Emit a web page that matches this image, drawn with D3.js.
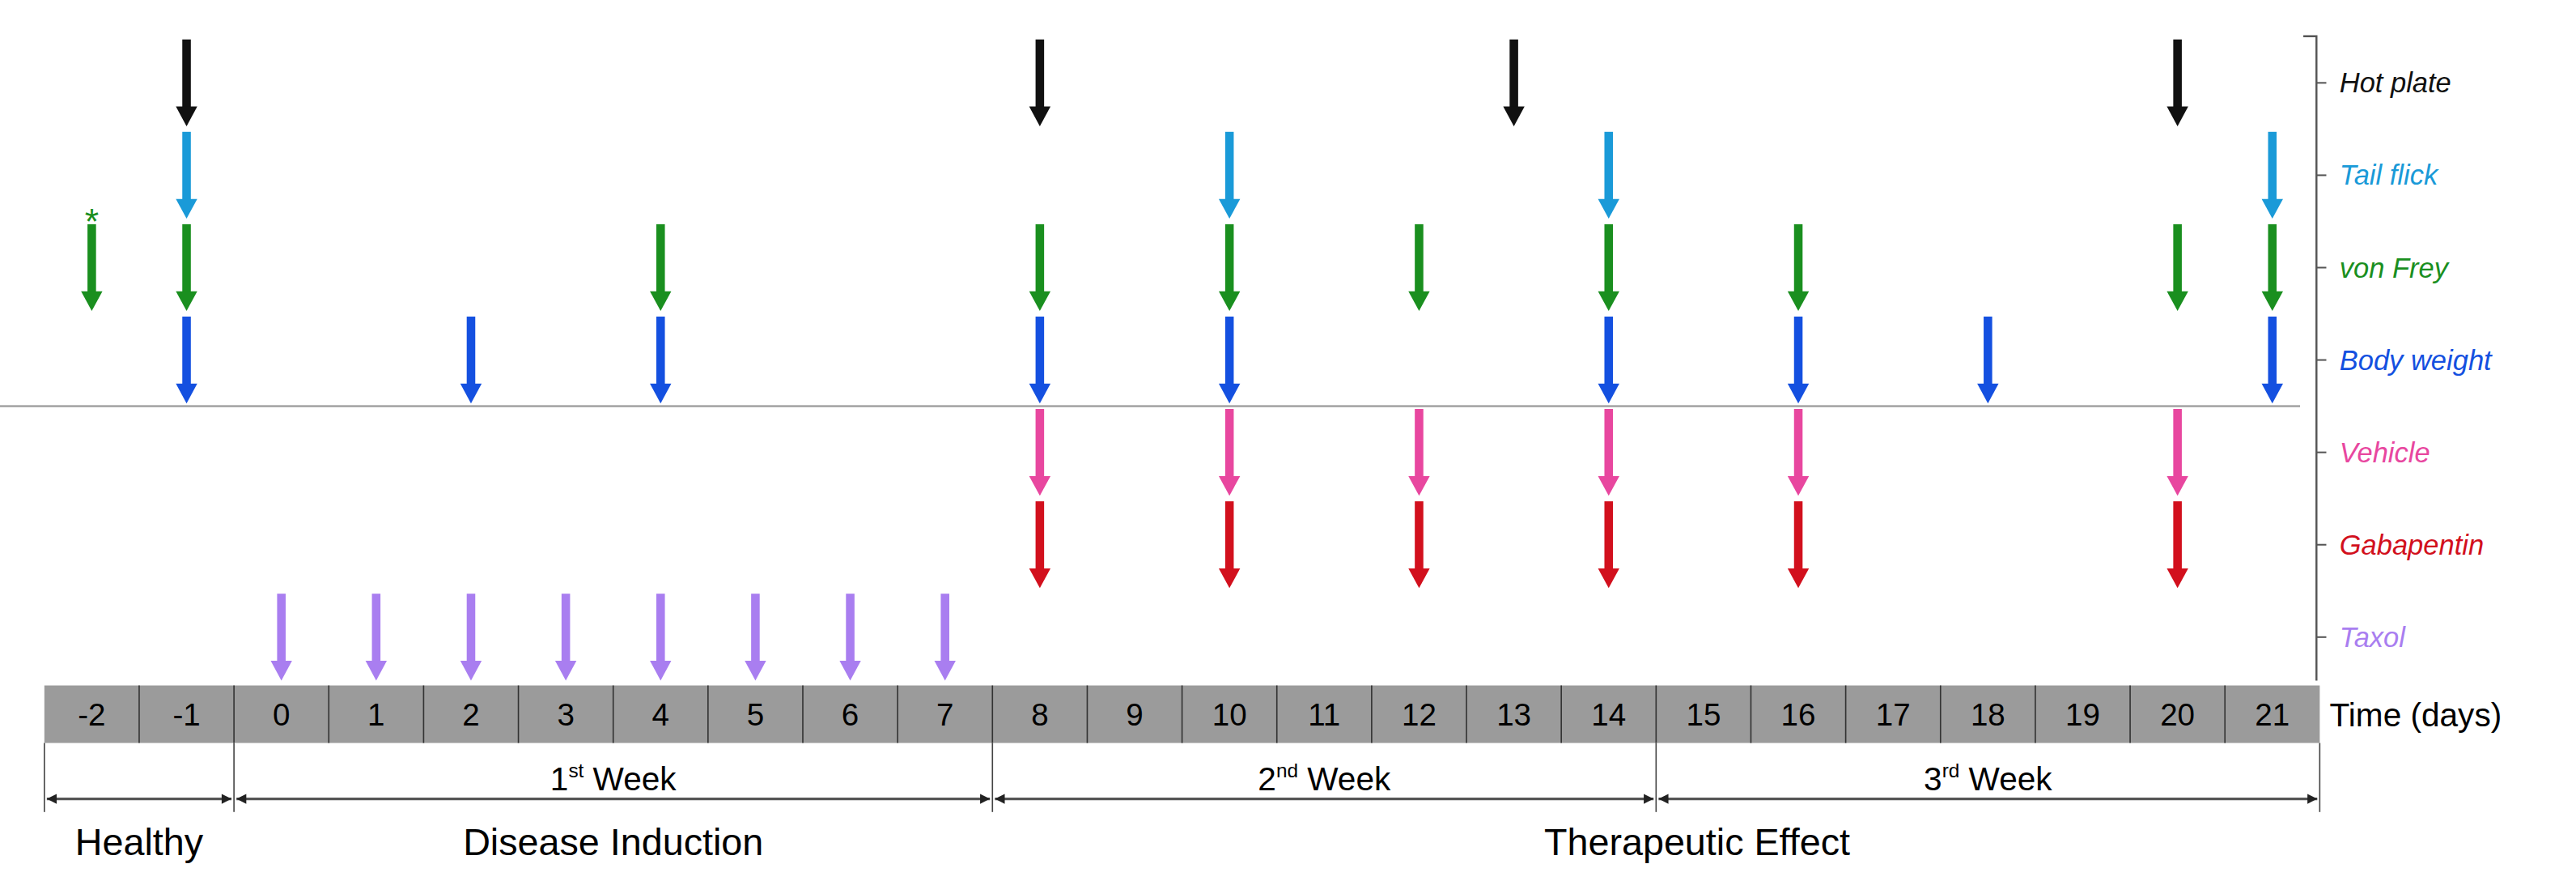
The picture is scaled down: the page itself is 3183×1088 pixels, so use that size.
<!DOCTYPE html>
<html><head><meta charset="utf-8">
<script src="https://cdn.jsdelivr.net/npm/d3@7"></script>
<style>body{margin:0;background:#fff}svg{display:block}</style>
</head><body>
<script>
// days on the timeline
const days = d3.range(-2, 22);
// measurement / treatment rows, with the days they happen
const rowNames = ["Hot plate", "Tail flick", "von Frey", "Body weight", "Vehicle", "Gabapentin", "Taxol"];
const rowColors = ["#111111", "#1a9ad8", "#1a8f1f", "#1450e0", "#e8479f", "#d2101d", "#a97ef0"];
const hotPlate = [-1, 8, 13, 20];
const tailFlick = [-1, 10, 14, 21];
const vonFrey = [-2, -1, 4, 8, 10, 12, 14, 16, 20, 21];
const bodyWeight = [-1, 2, 4, 8, 10, 14, 16, 18, 21];
const vehicle = [8, 10, 12, 14, 16, 20];
const gabapentin = [8, 10, 12, 14, 16, 20];
const taxol = [0, 1, 2, 3, 4, 5, 6, 7];
const rowDays = [hotPlate, tailFlick, vonFrey, bodyWeight, vehicle, gabapentin, taxol];
const starred = [{row: "von Frey", day: -2}];
// period spans (boundaries in day units, cell edges)
const weeks = [{from: -2.5, to: -0.5, label: "", sup: ""}, {from: -0.5, to: 7.5, label: "1", sup: "st"},
               {from: 7.5, to: 14.5, label: "2", sup: "nd"}, {from: 14.5, to: 21.5, label: "3", sup: "rd"}];
const phases = [{from: -2.5, to: -0.5, label: "Healthy"}, {from: -0.5, to: 7.5, label: "Disease Induction"},
                {from: 7.5, to: 21.5, label: "Therapeutic Effect"}];

const W = 3183, H = 1088, k = 2.03;
const svg = d3.select("body").append("svg").attr("width", W).attr("height", H)
  .style("font-family", "'Liberation Sans', Arial, sans-serif");
const g = svg.append("g").attr("transform", `scale(${k})`);

const x = d3.scaleLinear().domain([-2.5, 21.5]).range([27, 1412]);
const y = d3.scaleBand().domain(rowNames).range([24, 414]).paddingInner(0.06);

// arrows
rowNames.forEach((name, i) => {
  const top = y(name), bot = top + y.bandwidth();
  rowDays[i].forEach(d => {
    const cx = x(d);
    g.append("rect").attr("x", cx - 2.6).attr("y", top).attr("width", 5.2).attr("height", y.bandwidth() - 10)
      .attr("fill", rowColors[i]);
    g.append("path").attr("d", `M${cx - 6.5},${bot - 12}L${cx + 6.5},${bot - 12}L${cx},${bot}Z`).attr("fill", rowColors[i]);
  });
  // right labels
  const ly = top + y.bandwidth() / 2;
  g.append("line").attr("x1", 1410).attr("x2", 1416).attr("y1", ly).attr("y2", ly).attr("stroke", "#555");
  g.append("text").attr("x", 1424).attr("y", ly).attr("dy", "0.35em").attr("fill", rowColors[i])
    .style("font-style", "italic").style("font-size", "17px").text(name);
});
starred.forEach(s => {
  g.append("text").attr("x", x(s.day)).attr("y", y(s.row) + 6).attr("text-anchor", "middle")
    .attr("fill", rowColors[rowNames.indexOf(s.row)]).style("font-size", "22px").text("*");
});
// bracket
g.append("path").attr("d", "M1402,22H1410V414").attr("fill", "none").attr("stroke", "#555").attr("stroke-width", 1.2);
// separator between measures and treatments
const sepY = (y("Body weight") + y.bandwidth() + y("Vehicle")) / 2;
g.append("line").attr("x1", 0).attr("x2", 1400).attr("y1", sepY).attr("y2", sepY).attr("stroke", "#aaa").attr("stroke-width", 1.3);

// day cells
const cellTop = 417, cellH = 35;
g.append("rect").attr("x", x(-2.5)).attr("y", cellTop).attr("width", x(21.5) - x(-2.5)).attr("height", cellH).attr("fill", "#9b9b9b");
days.forEach(d => {
  if (d > -2) g.append("line").attr("x1", x(d - 0.5)).attr("x2", x(d - 0.5)).attr("y1", cellTop).attr("y2", cellTop + cellH)
    .attr("stroke", "#333").attr("stroke-width", 0.8);
  g.append("text").attr("x", x(d)).attr("y", cellTop + cellH / 2).attr("dy", "0.36em").attr("text-anchor", "middle")
    .style("font-size", "19px").text(d);
});
g.append("text").attr("x", 1418).attr("y", cellTop + cellH / 2).attr("dy", "0.36em").style("font-size", "20px").text("Time (days)");

// week spans
const arrowY = 486;
[-2.5, -0.5, 7.5, 14.5, 21.5].forEach(b => {
  g.append("line").attr("x1", x(b)).attr("x2", x(b)).attr("y1", cellTop + cellH).attr("y2", 494).attr("stroke", "#444").attr("stroke-width", 0.8);
});
weeks.forEach(w => {
  const a = x(w.from) + 1.5, b = x(w.to) - 1.5;
  g.append("line").attr("x1", a).attr("x2", b).attr("y1", arrowY).attr("y2", arrowY).attr("stroke", "#555").attr("stroke-width", 1.6);
  g.append("path").attr("d", `M${a},${arrowY}l6,-3v6Z M${b},${arrowY}l-6,-3v6Z`).attr("fill", "#222");
  if (w.label) {
    const t = g.append("text").attr("x", (x(w.from) + x(w.to)) / 2).attr("y", arrowY - 5).attr("text-anchor", "middle").style("font-size", "20px");
    t.append("tspan").text(w.label);
    t.append("tspan").attr("dy", -8).style("font-size", "12px").text(w.sup);
    t.append("tspan").attr("dy", 8).text(" Week");
  }
});
phases.forEach((p, i) => {
  const cx = i === 2 ? 1033 : (x(p.from) + x(p.to)) / 2;
  g.append("text").attr("x", cx).attr("y", 512).attr("dy", "0.35em").attr("text-anchor", "middle")
    .style("font-size", "23px").text(p.label);
});
</script>
</body></html>
